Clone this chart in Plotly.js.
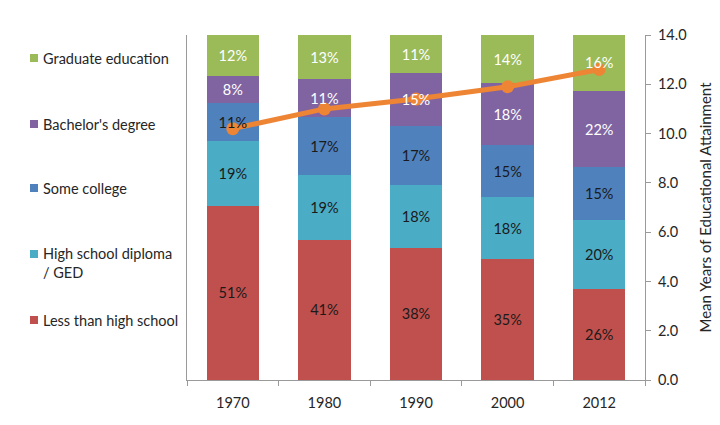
<!DOCTYPE html>
<html>
<head>
<meta charset="utf-8">
<script src="https://cdn.plot.ly/plotly-3.0.1.min.js"></script>
<style>html,body{margin:0;padding:0;background:#fff;}#chart{width:720px;height:425px;}</style>
</head>
<body>
<div id="chart"></div>
<script>
const years = ["1970", "1980", "1990", "2000", "2012"];
const seriesNames = ["Less than high school", "High school diploma<br>/ GED", "Some college", "Bachelor's degree", "Graduate education"];
const lessThanHS = [51, 41, 38, 35, 26];
const highSchool = [19, 19, 18, 18, 20];
const someCollege = [11, 17, 17, 15, 15];
const bachelors = [8, 11, 15, 18, 22];
const graduate = [12, 13, 11, 14, 16];
const meanYears = [10.2, 11.0, 11.4, 11.9, 12.6];
const lineName = "Mean Years of Educational Attainment";

const seriesValues = [lessThanHS, highSchool, someCollege, bachelors, graduate];
const colors = ["#C0504D", "#4BACC6", "#4F81BD", "#8064A2", "#9BBB59"];
const textColors = ["#1a1a1a", "#1a1a1a", "#1a1a1a", "#ffffff", "#ffffff"];
const FONT = "Lato, 'Open Sans', sans-serif";

// coloured bars (no text) on the main axis
const traces = seriesValues.map((vals, i) => ({
  type: "bar",
  name: seriesNames[i],
  x: years,
  y: vals,
  marker: {color: colors[i], line: {width: 0}},
  hoverinfo: "none",
  showlegend: false
}));

// mean years line on the right axis
traces.push({
  type: "scatter",
  mode: "lines+markers",
  name: lineName,
  x: years,
  y: meanYears,
  yaxis: "y2",
  line: {color: "#EE8535", width: 5},
  marker: {color: "#EE8535", size: 13},
  hoverinfo: "none",
  showlegend: false
});

// percentage labels, drawn above the line (transparent stacked bars on an overlay axis)
seriesValues.forEach((vals, i) => {
  traces.push({
    type: "bar",
    name: seriesNames[i] + " labels",
    x: years,
    y: vals,
    xaxis: "x",
    yaxis: "y3",
    text: vals.map(v => v + "%"),
    textposition: "inside",
    insidetextanchor: "middle",
    textangle: 0,
    constraintext: "none",
    textfont: {family: FONT, size: 14.5, color: textColors[i]},
    marker: {color: "rgba(0,0,0,0)", line: {width: 0}},
    hoverinfo: "none",
    showlegend: false
  });
});

// custom legend (left side), pixel centres in the 425px-high figure
const legendY = [320, 263, 188, 124, 58]; // same order as seriesNames
const PLOT_T = 35, PLOT_H = 345, PLOT_L = 187, PLOT_W = 458;
const py = p => 1 - (p - PLOT_T) / PLOT_H;
const px = p => (p - PLOT_L) / PLOT_W;
const annotations = [];
const shapes = [];
seriesNames.forEach((name, i) => {
  annotations.push({
    xref: "paper", yref: "paper",
    x: px(41), y: py(legendY[i]),
    xanchor: "left", yanchor: "middle",
    text: name, showarrow: false, align: "left",
    font: {family: FONT, size: 14.5, color: "#262626"}
  });
  const ys = i === 1 ? legendY[i] - 9 : legendY[i];
  shapes.push({
    type: "rect", xref: "paper", yref: "paper",
    x0: px(30), x1: px(38),
    y0: py(ys + 4), y1: py(ys - 4),
    fillcolor: colors[i], line: {width: 0}
  });
});

const layout = {
  width: 720, height: 425,
  margin: {l: 187, r: 75, t: 35, b: 45},
  paper_bgcolor: "#ffffff",
  plot_bgcolor: "#ffffff",
  barmode: "stack",
  barnorm: "percent",
  bargap: 0.43,
  showlegend: false,
  font: {family: FONT, size: 14, color: "#262626"},
  xaxis: {
    type: "category",
    showline: true, linecolor: "#9a9a9a", linewidth: 1,
    ticks: "outside", tickson: "boundaries", ticklen: 5, tickcolor: "#9a9a9a",
    ticklabelstandoff: 10,
    tickfont: {family: FONT, size: 14.5, color: "#262626"},
    showgrid: false, zeroline: false, fixedrange: true
  },
  yaxis: {
    range: [0, 100],
    showline: true, linecolor: "#9a9a9a", linewidth: 1,
    showticklabels: false, ticks: "",
    showgrid: false, zeroline: false, fixedrange: true
  },
  yaxis2: {
    overlaying: "y", side: "right",
    range: [0, 14], dtick: 2, tickformat: ".1f",
    showline: true, linecolor: "#9a9a9a", linewidth: 1,
    ticks: "outside", ticklen: 5, tickcolor: "#9a9a9a",
    ticklabelstandoff: 4,
    tickfont: {family: FONT, size: 14.5, color: "#262626"},
    title: {text: lineName, font: {family: FONT, size: 15, color: "#262626"}, standoff: 14},
    showgrid: false, zeroline: false, fixedrange: true
  },
  yaxis3: {
    overlaying: "y", side: "left",
    range: [0, 100],
    visible: false,
    showgrid: false, zeroline: false, fixedrange: true
  },
  annotations: annotations,
  shapes: shapes
};

Plotly.newPlot("chart", traces, layout, {displayModeBar: false, staticPlot: true});
</script>
</body>
</html>
